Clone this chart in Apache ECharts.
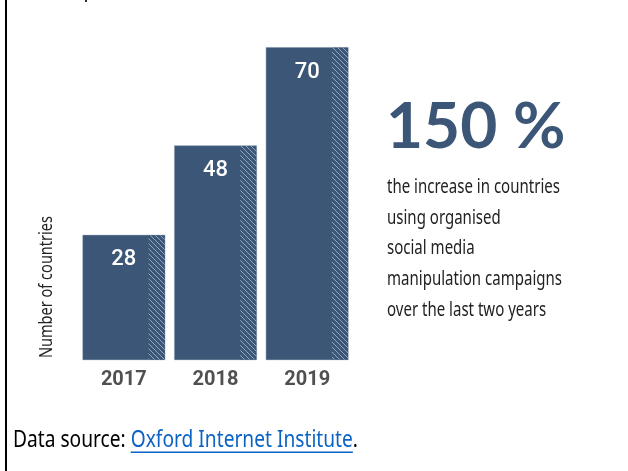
<!DOCTYPE html>
<html><head><meta charset="utf-8">
<script src="https://cdn.jsdelivr.net/npm/echarts@6/dist/echarts.min.js"></script>
<style>html,body{margin:0;padding:0;background:#fff}#c{width:628px;height:471px}</style>
</head><body><div id="c"></div>
<script>
const categories = ['2017', '2018', '2019'];
const countries = [28, 48, 70];
const headline = '150 %';
const blurbLines = ['the increase in countries', 'using organised', 'social media', 'manipulation campaigns', 'over the last two years'];
const yAxisTitle = 'Number of countries';
const sourcePrefix = 'Data source: ';
const sourceLink = 'Oxford Internet Institute';
const sourceSuffix = '.';

const BAR = '#3b5676';
const HUM = "'Noto Sans', 'Open Sans', sans-serif";

function makeHatch() {
  const n = 5;
  const c = document.createElement('canvas');
  c.width = n; c.height = n;
  const g = c.getContext('2d');
  g.fillStyle = BAR; g.fillRect(0, 0, n, n);
  g.strokeStyle = 'rgba(160,180,205,0.85)'; g.lineWidth = 1;
  g.beginPath();
  g.moveTo(-1, -1); g.lineTo(n + 1, n + 1);
  g.moveTo(n - 1, -1); g.lineTo(n + 1, 1);
  g.moveTo(-1, n - 1); g.lineTo(1, n + 1);
  g.stroke();
  return c;
}
const hatch = makeHatch();

const mctx = document.createElement('canvas').getContext('2d');
function textW(t, font) { mctx.font = font; return mctx.measureText(t).width; }

const blurbFont = '20px ' + HUM;
const blurbScale = 175 / textW('manipulation campaigns', blurbFont);
const yTitleFont = '18px ' + HUM;
const yTitleScale = 142 / textW(yAxisTitle, yTitleFont);
const srcFont = '24px ' + HUM;
const srcScale = 345 / textW(sourcePrefix + sourceLink + sourceSuffix, srcFont);
const srcX = 13, srcY = 440;
const preW = textW(sourcePrefix, srcFont) * srcScale;
const linkW = textW(sourceLink, srcFont) * srcScale;

const chart = echarts.init(document.getElementById('c'), null, {renderer: 'canvas'});
const graphics = [
  {type: 'rect', shape: {x: 5, y: 0, width: 2, height: 471}, style: {fill: '#000'}},
  {type: 'rect', shape: {x: 85, y: 0, width: 2, height: 2}, style: {fill: '#333'}},
  {type: 'text', x: 47, y: 287, rotation: Math.PI / 2, scaleX: yTitleScale,
    style: {text: yAxisTitle, font: yTitleFont, fill: '#222', align: 'center', verticalAlign: 'middle'}},
  {type: 'text', x: 386, y: 127,
    style: {text: headline, font: 'bold 64px Lato', fill: BAR, align: 'left', verticalAlign: 'middle'}},
  {type: 'text', x: srcX, y: srcY, scaleX: srcScale,
    style: {text: sourcePrefix, font: srcFont, fill: '#000', align: 'left', verticalAlign: 'middle'}},
  {type: 'text', x: srcX + preW, y: srcY, scaleX: srcScale,
    style: {text: sourceLink, font: srcFont, fill: '#0b63c5', align: 'left', verticalAlign: 'middle'}},
  {type: 'text', x: srcX + preW + linkW, y: srcY, scaleX: srcScale,
    style: {text: sourceSuffix, font: srcFont, fill: '#000', align: 'left', verticalAlign: 'middle'}},
  {type: 'rect', shape: {x: srcX + preW, y: srcY + 11.5, width: linkW, height: 1.5}, style: {fill: '#0b63c5'}}
];
const lineYs = [187.5, 218, 248.5, 279.5, 310.5];
blurbLines.forEach((t, i) => {
  graphics.push({type: 'text', x: 387, y: lineYs[i], scaleX: blurbScale,
    style: {text: t, font: blurbFont, fill: '#222', align: 'left', verticalAlign: 'middle'}});
});

chart.setOption({
  animation: false,
  grid: {left: 78, right: 275, top: 47.3, bottom: 111},
  xAxis: {
    type: 'category', data: categories,
    axisLine: {show: false}, axisTick: {show: false},
    axisLabel: {margin: 10, fontSize: 20, fontWeight: 'bold', color: '#505050', fontFamily: 'Roboto'}
  },
  yAxis: {
    type: 'value', min: 0, max: 70,
    axisLine: {show: false}, axisTick: {show: false}, axisLabel: {show: false}, splitLine: {show: false}
  },
  series: [{
    type: 'custom',
    data: countries.map((v, i) => [i, v]),
    renderItem: function (params, api) {
      const idx = api.value(0), v = api.value(1);
      const top = api.coord([idx, v]);
      const bot = api.coord([idx, 0]);
      const bw = api.size([1, 0])[0] * 0.9;
      const left = top[0] - bw / 2;
      const h = bot[1] - top[1];
      const hw = bw * 0.2;
      return {
        type: 'group', children: [
          {type: 'rect', shape: {x: left, y: top[1], width: bw, height: h}, style: {fill: BAR, stroke: '#c3ccd7', lineWidth: 0.5}},
          {type: 'rect', shape: {x: left + bw - hw, y: top[1] + 0.5, width: hw - 0.5, height: h - 1}, style: {fill: {image: hatch, repeat: 'repeat'}}},
          {type: 'text', style: {text: String(v), x: top[0], y: top[1] + 25, align: 'center', verticalAlign: 'middle', fill: '#fff', font: '500 22px Roboto'}}
        ]
      };
    }
  }],
  graphic: graphics
});
</script></body></html>
